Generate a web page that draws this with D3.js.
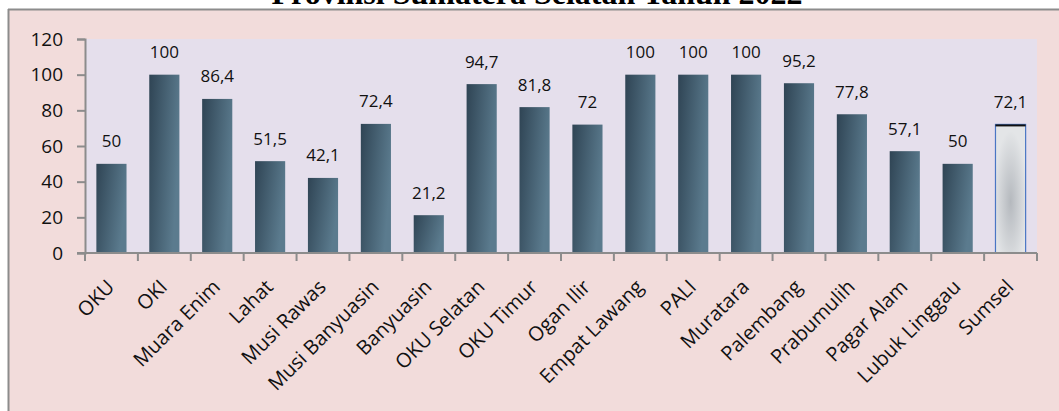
<!DOCTYPE html>
<html>
<head>
<meta charset="utf-8">
<script src="https://cdn.jsdelivr.net/npm/d3@7"></script>
<style>
  html, body { margin: 0; padding: 0; background: #ffffff; }
  svg { display: block; }
</style>
</head>
<body>
<svg id="chart" width="1059" height="411"></svg>
<script>
const categories = ["OKU", "OKI", "Muara Enim", "Lahat", "Musi Rawas", "Musi Banyuasin", "Banyuasin",
  "OKU Selatan", "OKU Timur", "Ogan Ilir", "Empat Lawang", "PALI", "Muratara", "Palembang",
  "Prabumulih", "Pagar Alam", "Lubuk Linggau", "Sumsel"];
const values = [50, 100, 86.4, 51.5, 42.1, 72.4, 21.2, 94.7, 81.8, 72, 100, 100, 100, 95.2, 77.8, 57.1, 50, 72.1];
const valueLabels = ["50", "100", "86,4", "51,5", "42,1", "72,4", "21,2", "94,7", "81,8", "72", "100", "100", "100", "95,2", "77,8", "57,1", "50", "72,1"];
const yTicks = [0, 20, 40, 60, 80, 100, 120];
const title = "Provinsi Sumatera Selatan Tahun 2022";
const highlight = "Sumsel";

const svg = d3.select("#chart");
const W = 1059, H = 411;
const plot = { left: 85, right: 1037, top: 39, bottom: 253 };

const defs = svg.append("defs");
const g1 = defs.append("linearGradient").attr("id", "barGrad")
  .attr("x1", "0").attr("y1", "0").attr("x2", "1").attr("y2", "0.35");
g1.append("stop").attr("offset", "0").attr("stop-color", "#2f4454");
g1.append("stop").attr("offset", "1").attr("stop-color", "#5b7b8e");
const g2 = defs.append("radialGradient").attr("id", "sumGrad")
  .attr("cx", "0.5").attr("cy", "0.6").attr("r", "0.55");
g2.append("stop").attr("offset", "0").attr("stop-color", "#b5b9be");
g2.append("stop").attr("offset", "1").attr("stop-color", "#e3e5e7");

// title (mostly clipped at top, as in the reference)
svg.append("text").attr("x", 537).attr("y", 4)
  .attr("text-anchor", "middle")
  .style("font-family", "'Liberation Serif', 'Times New Roman', serif")
  .style("font-weight", "bold").style("font-size", "32px")
  .text(title);

// outer frame
svg.append("rect").attr("x", 9).attr("y", 10).attr("width", W - 9).attr("height", H - 10)
  .attr("fill", "#f2dcdb");
svg.append("line").attr("x1", 8.5).attr("x2", 8.5).attr("y1", 9).attr("y2", H)
  .attr("stroke", "#8c8c8c").attr("stroke-width", 2);
svg.append("line").attr("x1", 8).attr("x2", W).attr("y1", 9.5).attr("y2", 9.5)
  .attr("stroke", "#8c8c8c").attr("stroke-width", 2);

// plot bg
svg.append("rect").attr("x", plot.left).attr("y", plot.top)
  .attr("width", plot.right - plot.left).attr("height", plot.bottom - plot.top)
  .attr("fill", "#e5dfec");

const x = d3.scaleBand().domain(categories).range([plot.left, plot.right])
  .paddingInner(0.43).paddingOuter(0.215);
const xTick = d3.scaleBand().domain(categories).range([plot.left, plot.right]).padding(0);
const y = d3.scaleLinear().domain([0, 120]).range([plot.bottom, plot.top]);

// bars
const data = categories.map((c, i) => ({ c, v: values[i], l: valueLabels[i] }));
svg.append("g").selectAll("rect").data(data.filter(d => d.c !== highlight)).join("rect")
  .attr("x", d => x(d.c)).attr("y", d => y(d.v))
  .attr("width", x.bandwidth()).attr("height", d => y(0) - y(d.v))
  .attr("fill", "url(#barGrad)");

const hd = data.find(d => d.c === highlight);
const hx = x(hd.c), hw = x.bandwidth(), hy = y(hd.v);
svg.append("rect").attr("x", hx).attr("y", hy).attr("width", hw).attr("height", y(0) - hy)
  .attr("fill", "url(#sumGrad)").attr("stroke", "#4a76c4").attr("stroke-width", 1.2);
svg.append("line").attr("x1", hx).attr("x2", hx + hw).attr("y1", hy + 1).attr("y2", hy + 1)
  .attr("stroke", "#111").attr("stroke-width", 2);

// data labels
svg.append("g").selectAll("text").data(data).join("text")
  .attr("x", d => x(d.c) + x.bandwidth() / 2).attr("y", d => y(d.v) - 16.5)
  .attr("text-anchor", "middle")
  .style("font-family", "'Open Sans', sans-serif").style("font-size", "17px").style("fill", "#111")
  .text(d => d.l);

// y axis
const yAxis = svg.append("g").attr("transform", `translate(${plot.left},0)`)
  .call(d3.axisLeft(y).tickValues(yTicks).tickSize(8).tickPadding(14));
yAxis.select(".domain").attr("stroke", "#8c8c8c").attr("stroke-width", 2);
yAxis.selectAll(".tick line").attr("stroke", "#8c8c8c").attr("stroke-width", 2);
yAxis.selectAll(".tick text").style("font-family", "'Open Sans', sans-serif").style("font-size", "19px").attr("fill", "#111");

// x axis
const xAxis = svg.append("g").attr("transform", `translate(0,${plot.bottom})`);
xAxis.append("line").attr("x1", plot.left - 8).attr("x2", plot.right).attr("y1", 0).attr("y2", 0)
  .attr("stroke", "#8c8c8c").attr("stroke-width", 2);
const bounds = categories.map(c => xTick(c)).concat([plot.right]);
xAxis.selectAll("line.tk").data(bounds).join("line").attr("class", "tk")
  .attr("x1", d => d).attr("x2", d => d).attr("y1", 0).attr("y2", 8)
  .attr("stroke", "#8c8c8c").attr("stroke-width", 2);
xAxis.selectAll("text").data(categories).join("text")
  .attr("transform", d => `translate(${x(d) + x.bandwidth() / 2 - 6},${25}) rotate(-45)`)
  .attr("text-anchor", "end").attr("dy", "0.72em")
  .style("font-family", "'Open Sans', sans-serif").style("font-size", "20px").style("fill", "#111")
  .text(d => d);
</script>
</body>
</html>
